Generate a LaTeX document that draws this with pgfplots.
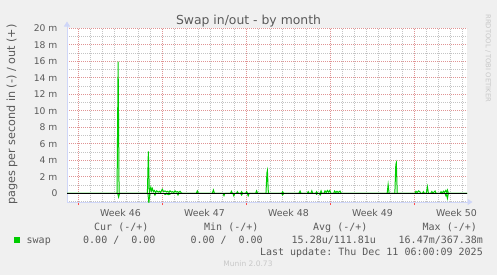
\documentclass[border=0pt]{standalone}
\usepackage{pgfplots}
\pgfplotsset{compat=1.18}
\usetikzlibrary{arrows.meta}
\usepackage{fontspec}
\setmainfont{DejaVu Sans}
\newfontfamily\mono{DejaVu Sans Mono}
\definecolor{bgcol}{HTML}{F0F0F0}
\definecolor{txt}{HTML}{5A5A5A}
\definecolor{axcol}{HTML}{CFD6F8}
\definecolor{swapgreen}{HTML}{00CC00}
\definecolor{mgrid}{HTML}{E09494}
\definecolor{ngrid}{HTML}{C4C4C4}
\definecolor{faint}{HTML}{C8C8C8}
\begin{document}
\begin{tikzpicture}[x=1bp,y=1bp]
\path[use as bounding box] (0,0) rectangle (497,-275);
\fill[bgcol] (0,0) rectangle (497,-275);
\begin{axis}[
  at={(67bp,-202bp)}, anchor=south west,
  scale only axis, width=400bp, height=174bp,
  xmin=0, xmax=33.333, ymin=-1.05, ymax=20.04,
  axis background/.style={fill=white},
  axis x line=bottom, axis y line=left,
  axis line style={draw=axcol, line width=1bp},
  x axis line style={-{Triangle[length=5bp,width=6bp]}, shorten >=-5.5bp},
  y axis line style={-{Triangle[length=5bp,width=6bp]}, shorten >=-6.5bp},
  xtick={0.9167,7.9167,14.9167,21.9167,28.9167},
  xticklabels={,,,,,},
  minor xtick={0.9167,1.9167,...,33.2},
  extra x ticks={4.45,11.45,18.45,25.45,32.45},
  extra x tick labels={Week 46,Week 47,Week 48,Week 49,Week 50},
  extra x tick style={grid=none, major tick length=0pt},
  ytick={0,2,...,20},
  yticklabels={0,2 m,4 m,6 m,8 m,10 m,12 m,14 m,16 m,18 m,20 m},
  minor ytick={-1,1,...,19},
  grid=both,
  major grid style={draw=mgrid, line width=0.8bp, dash pattern=on 1bp off 1bp},
  minor grid style={draw=ngrid, line width=0.8bp, dash pattern=on 1bp off 1bp},
  tick align=outside,
  major x tick style={draw=red!70, line width=0.8bp},
  major tick length=3bp, minor tick length=0pt,
  y tick style={draw=none},
  xticklabel style={anchor=base, yshift=-14.7bp, font=\fontsize{9.4bp}{11bp}\selectfont, text=txt},
  yticklabel style={anchor=east, inner sep=0pt, xshift=-6.4bp, font=\fontsize{9.2bp}{11bp}\selectfont, text=txt},
  clip=true,
]
% out (+)
\addplot[swapgreen, line width=1bp] coordinates {
(0,0) (4.17,0) (4.26,15.95) (4.34,0)
(6.70,0) (6.78,5.1) (6.86,0.1) (6.98,0.73) (7.04,0.3) (7.11,0.6) (7.2,0.2) (7.28,0.35) (7.38,0.1) (7.48,0.3)
(7.6,0.15) (7.7,0.25) (7.8,0.1) (7.94,0.5) (8.05,0.2) (8.17,0.3) (8.3,0.15) (8.4,0.25) (8.5,0.1) (8.58,0.3)
(8.7,0.15) (8.8,0.2) (8.9,0.1) (9.0,0.3) (9.1,0.15) (9.2,0.2) (9.3,0.1) (9.42,0.25) (9.5,0.1) (9.58,0)
(10.77,0) (10.86,0.3) (10.95,0)
(12.11,0) (12.2,0.4) (12.29,0)
(13.62,0) (13.7,0.25) (13.78,0)
(14.12,0) (14.2,0.2) (14.28,0)
(14.47,0) (14.55,0.2) (14.63,0)
(14.89,0) (14.97,0.2) (15.05,0)
(15.72,0) (15.8,0.3) (15.88,0)
(16.58,0) (16.66,2.5) (16.7,2.75) (16.78,0)
(17.89,0) (17.97,0.2) (18.05,0)
(19.33,0) (19.42,0.28) (19.5,0)
(20.02,0) (20.1,0.2) (20.18,0) (20.32,0) (20.4,0.3) (20.48,0)
(20.72,0) (20.8,0.2) (20.88,0)
(21.09,0) (21.17,0.3) (21.25,0)
(21.42,0) (21.5,0.3) (21.6,0.1) (21.7,0.35) (21.8,0.15) (21.9,0.35) (21.98,0)
(22.22,0) (22.3,0.28) (22.4,0.1) (22.5,0.25) (22.6,0.1) (22.75,0.28) (22.85,0)
(26.68,0) (26.76,1.05) (26.84,0)
(27.32,0) (27.4,3.5) (27.44,3.7) (27.52,0)
(29.0,0) (29.08,0.25) (29.18,0.1) (29.3,0.3) (29.4,0.2) (29.48,0)
(29.62,0) (29.7,0.2) (29.78,0)
(29.94,0) (30.03,0.8) (30.12,0)
(30.32,0) (30.4,0.22) (30.5,0.05) (30.67,0.28) (30.75,0)
(31.1,0) (31.17,0.2) (31.25,0) (31.36,0.25) (31.45,0.1) (31.56,0.35) (31.64,0.1) (31.7,0.4) (31.78,0)
(33.333,0)
};
% in (-)
\addplot[swapgreen, line width=1bp] coordinates {
(0,0) (4.22,0) (4.3,-0.45) (4.38,0)
(6.74,0) (6.82,-1.1) (6.9,-0.1) (7.0,0) (7.25,0) (7.33,-0.22) (7.41,0)
(8.09,0) (8.17,-0.15) (8.3,-0.05) (8.45,-0.15) (8.58,-0.1) (8.66,0)
(9.17,0) (9.25,-0.2) (9.33,0)
(13.0,0) (13.08,-0.28) (13.16,0)
(13.82,0) (13.9,-0.3) (13.98,0)
(14.47,0) (14.55,-0.2) (14.63,0)
(15.02,0) (15.1,-0.3) (15.18,0)
(17.89,0) (17.97,-0.2) (18.05,0)
(20.72,0) (20.8,-0.12) (20.88,0)
(21.02,0) (21.1,-0.2) (21.18,0)
(31.5,0) (31.58,-0.3) (31.64,-0.2) (31.7,-0.6) (31.78,0)
(33.333,0)
};
% zero line
\addplot[black, line width=1bp] coordinates {(0,0) (33.333,0)};
\end{axis}
% title
\node[anchor=base, text=txt, font=\fontsize{12.4bp}{14bp}\selectfont] at (248.5,-24.3) {Swap in/out - by month};
% y label
\node[anchor=base, rotate=90, text=txt, font=\fontsize{11.2bp}{13bp}\selectfont] at (15,-114.7) {pages per second in (-) / out (+)};
% watermark
\node[anchor=center, rotate=-90, text=faint, font=\fontsize{6.8bp}{8bp}\selectfont] at (488,-58.3) {RRDTOOL / TOBI OETIKER};
% legend
\fill[swapgreen] (14,-237.3) rectangle (20,-242.9);
\begin{scope}[every node/.style={inner sep=0pt, text=txt, font=\mono\fontsize{10bp}{12bp}\selectfont}]
\node[anchor=base west] at (94,-230.7) {Cur\ (-/+)};
\node[anchor=base west] at (204,-230.7) {Min\ (-/+)};
\node[anchor=base west] at (313,-230.7) {Avg\ (-/+)};
\node[anchor=base west] at (422.5,-230.7) {Max\ (-/+)};
\node[anchor=base west] at (26.5,-243.5) {swap};
\node[anchor=base west] at (83,-243.5) {0.00\ /\ \ 0.00};
\node[anchor=base west] at (190.3,-243.5) {0.00\ /\ \ 0.00};
\node[anchor=base west] at (291.5,-243.5) {15.28u/111.81u};
\node[anchor=base west] at (398.5,-243.5) {16.47m/367.38m};
\node[anchor=base east] at (483,-255) {Last\ update:\ Thu\ Dec\ 11\ 06:00:09\ 2025};
\end{scope}
\node[anchor=base, inner sep=0pt, text=faint, font=\fontsize{7.5bp}{9bp}\selectfont] at (248,-266.5) {Munin 2.0.73};
\end{tikzpicture}
\end{document}
